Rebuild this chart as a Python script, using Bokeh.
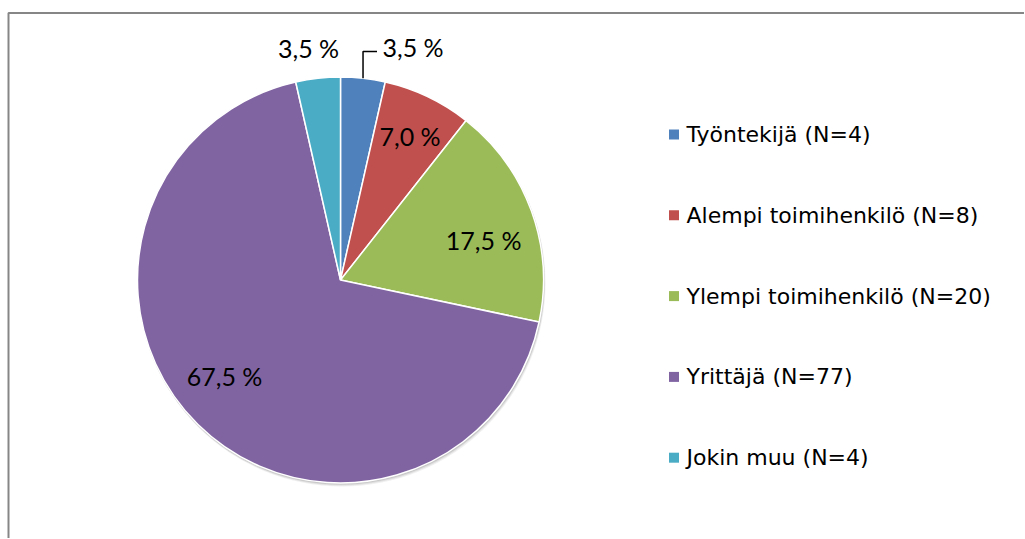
import math
from bokeh.plotting import figure
from bokeh.models import ColumnDataSource, Range1d
from bokeh.core.properties import value
from bokeh.embed import file_html
from bokeh.resources import INLINE

# ---- data ----
categories = ["Työntekijä", "Alempi toimihenkilö", "Ylempi toimihenkilö", "Yrittäjä", "Jokin muu"]
counts = [4, 8, 20, 77, 4]
pct_labels = ["3,5 %", "7,0 %", "17,5 %", "67,5 %", "3,5 %"]
colors = ["#4F81BD", "#C0504D", "#9BBB59", "#8064A2", "#4BACC6"]

# ---- layout (screen pixels of the page) ----
W, H = 1024, 538
def Y(sy):
    return H - sy

cx, cy, R = 340, Y(279.5), 203

p = figure(width=W, height=H, output_backend="svg", toolbar_location=None,
           x_range=Range1d(0, W), y_range=Range1d(0, H),
           x_axis_type=None, y_axis_type=None, min_border=0)
p.grid.visible = False
p.outline_line_color = None
p.background_fill_color = "white"
p.border_fill_color = "white"

# frame border (cropped chart-area border)
p.line([8, 8, W + 5], [Y(H + 5), Y(12.5), Y(12.5)], line_color="#868686", line_width=2)

total = sum(counts)
starts, ends, mids = [], [], []
cum = 0
for c in counts:
    a0 = math.pi / 2 - 2 * math.pi * cum / total
    cum += c
    a1 = math.pi / 2 - 2 * math.pi * cum / total
    starts.append(a0)
    ends.append(a1)
    mids.append((a0 + a1) / 2)

# soft shadow
for off, al in [(3, 0.10), (2, 0.15), (1, 0.2)]:
    p.circle(x=[cx + off * 0.5], y=[cy - off], radius=R + 0.5, fill_color="#707070",
             fill_alpha=al, line_color=None)

src = ColumnDataSource(dict(start=starts, end=ends, color=colors,
                            x=[cx] * len(counts), y=[cy] * len(counts)))
p.wedge(x="x", y="y", radius=R, start_angle="start", end_angle="end",
        direction="clock", fill_color="color", line_color="white", line_width=1.5,
        source=src)

# data labels (screen-pixel nudges for inside labels)
nudges = {1: (4, -7), 2: (0, 12), 3: (-9, -12)}
lab_x, lab_y = [], []
for i, m in enumerate(mids):
    if i == 0:
        # outside label with leader line
        ex, ey = cx + R * math.cos(m), cy + R * math.sin(m)
        ky = Y(51)
        p.line([ex, ex, ex + 14], [ey, ky, ky], line_color="black", line_width=1.5)
        lab_x.append(ex + 50)
        lab_y.append(Y(46))
    elif i == 4:
        rr = R * 1.15
        lab_x.append(cx + rr * math.cos(m) - 6)
        lab_y.append(cy + rr * math.sin(m) + 0)
    else:
        rr = R * 0.75
        dx, dy = nudges[i]
        lab_x.append(cx + rr * math.cos(m) + dx)
        lab_y.append(cy + rr * math.sin(m) - dy)

p.text(x=lab_x, y=lab_y, text=pct_labels, text_align="center", text_baseline="middle",
       text_font=value("Lato"), text_font_size="25px", text_color="black")

# legend
leg_y = [Y(134 + 80.8 * i) for i in range(len(categories))]
leg_text = [f"{c} (N={n})" for c, n in zip(categories, counts)]
p.rect(x=[673.5] * len(categories), y=leg_y, width=10, height=10,
       fill_color=colors, line_color=None)
p.text(x=[686] * len(categories), y=leg_y, text=leg_text, text_align="left",
       text_baseline="middle", text_font=value("DejaVu Sans"), text_font_size="22px",
       text_color="black")

open("out.html", "w").write(file_html(p, INLINE))
